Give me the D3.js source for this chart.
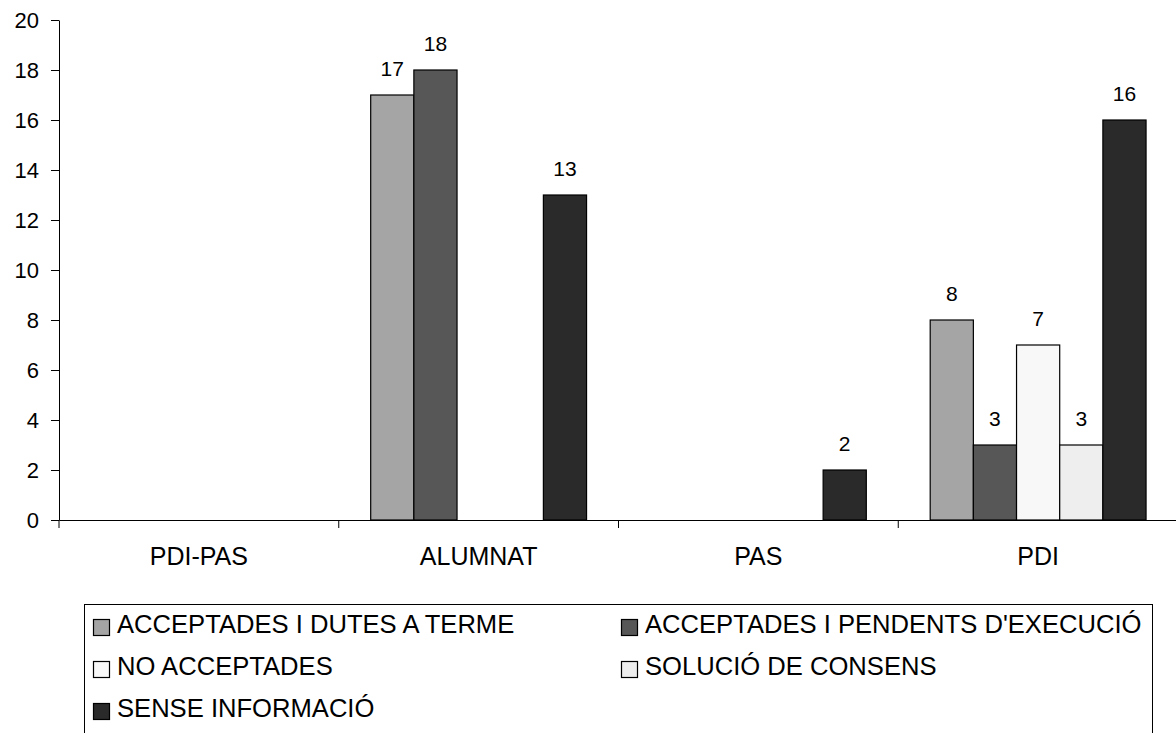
<!DOCTYPE html>
<html><head><meta charset="utf-8">
<script src="https://cdn.jsdelivr.net/npm/d3@7"></script>
<style>body{margin:0;background:#fff}svg{display:block;font-family:"Liberation Sans",Arial,sans-serif}</style>
</head><body>
<svg id="c" width="1176" height="733"></svg>
<script>
const categories = ["PDI-PAS", "ALUMNAT", "PAS", "PDI"];
const seriesNames = ["ACCEPTADES I DUTES A TERME", "ACCEPTADES I PENDENTS D'EXECUCIÓ", "NO ACCEPTADES", "SOLUCIÓ DE CONSENS", "SENSE INFORMACIÓ"];
const acceptadesDutes = [0, 17, 0, 8];
const acceptadesPendents = [0, 18, 0, 3];
const noAcceptades = [0, 0, 0, 7];
const solucioConsens = [0, 0, 0, 3];
const senseInformacio = [0, 13, 2, 16];
const yTicks = [0, 2, 4, 6, 8, 10, 12, 14, 16, 18, 20];
const colors = ["#a5a5a5", "#575757", "#f8f8f8", "#eeeeee", "#2a2a2a"];

(function () {
const series = [acceptadesDutes, acceptadesPendents, noAcceptades, solucioConsens, senseInformacio];
const svg = d3.select("#c");
const mLeft = 59, mRight = 1178, mTop = 20, mBottom = 520;
const FONT = "Liberation Sans, Arial, sans-serif";

const x = d3.scaleBand().domain(categories).range([mLeft, mRight]);
const xi = d3.scaleBand().domain(d3.range(series.length)).range([0, x.bandwidth()]).paddingOuter(0.74).paddingInner(0);
const y = d3.scaleLinear().domain([0, 20]).range([mBottom, mTop]);

const yAxis = svg.append("g").attr("transform", `translate(${mLeft},0)`)
  .call(d3.axisLeft(y).tickValues(yTicks).tickSize(8).tickPadding(12).tickSizeOuter(0));
yAxis.select(".domain").attr("stroke", "#000");
yAxis.selectAll("text").attr("font-size", 22).attr("fill", "#000").attr("font-family", FONT);
yAxis.selectAll("line").attr("stroke", "#000");

categories.forEach((cat, ci) => {
  series.forEach((s, si) => {
    const v = s[ci];
    if (!v) return;
    const bx = x(cat) + xi(si);
    svg.append("rect").attr("x", bx).attr("y", y(v)).attr("width", xi.bandwidth()).attr("height", y(0) - y(v))
      .attr("fill", colors[si]).attr("stroke", "#000").attr("stroke-width", 1.2);
    svg.append("text").attr("x", bx + xi.bandwidth() / 2).attr("y", y(v) - 19).attr("text-anchor", "middle")
      .attr("font-size", 21).text(v);
  });
});

const xAxis = svg.append("g").attr("transform", `translate(0,${mBottom})`)
  .call(d3.axisBottom(x).tickSize(0).tickPadding(27).tickSizeOuter(0));
xAxis.select(".domain").attr("stroke", "#000");
xAxis.selectAll("text").attr("font-size", 25).attr("fill", "#000").attr("font-family", FONT);
const bounds = categories.map(c => x(c)).concat([mRight]);
svg.append("g").selectAll("line").data(bounds).join("line")
  .attr("x1", d => d).attr("x2", d => d).attr("y1", mBottom).attr("y2", mBottom + 8).attr("stroke", "#000");

const lg = svg.append("g");
lg.append("rect").attr("x", 84.5).attr("y", 604.5).attr("width", 1068).attr("height", 200).attr("fill", "none").attr("stroke", "#000");
const colX = [93, 621], rowY = [624, 666, 708];
seriesNames.forEach((n, i) => {
  const cx = colX[i % 2], cy = rowY[Math.floor(i / 2)];
  lg.append("rect").attr("x", cx + 0.5).attr("y", cy - 4.5).attr("width", 16).attr("height", 16)
    .attr("fill", colors[i]).attr("stroke", "#000").attr("stroke-width", 1.2);
  lg.append("text").attr("x", cx + 24).attr("y", cy).attr("dy", "0.35em").attr("font-size", 25.6).text(n);
});
})();
</script>
</body></html>
